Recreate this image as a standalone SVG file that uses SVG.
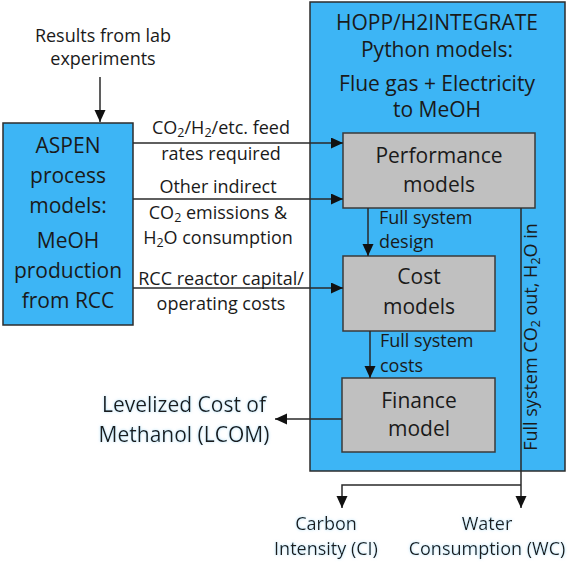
<svg xmlns="http://www.w3.org/2000/svg" width="571" height="564" viewBox="0 0 571 564">
<style>
text{font-family:"Open Sans","Liberation Sans",sans-serif;fill:#1a1a1a}
.big{font-size:21px}
.mid{font-size:18px}
.lab{font-size:18px}
.c{text-anchor:middle}
.blue{fill:#3db5f5;stroke:#2d2d2d;stroke-width:1.5}
.gray{fill:#c0c0c0;stroke:#3a3a3a;stroke-width:1.5}
.ln{fill:none;stroke:#2a2a2a;stroke-width:1.5}
.glow{filter:url(#glow)}
</style>
<defs>
<marker id="ah" markerUnits="userSpaceOnUse" markerWidth="12" markerHeight="12" refX="12" refY="5.5" orient="auto">
<path d="M0,0 L12,5.5 L0,11 z" fill="#111"/>
</marker>
<filter id="glow" x="-10%" y="-30%" width="120%" height="160%">
<feGaussianBlur in="SourceAlpha" stdDeviation="1.6" result="b"/>
<feFlood flood-color="#8fd0f2" flood-opacity="0.7"/>
<feComposite in2="b" operator="in" result="g"/>
<feMerge><feMergeNode in="g"/><feMergeNode in="SourceGraphic"/></feMerge>
</filter>
</defs>

<g id="hopp">
<rect class="blue" x="310" y="2" width="255" height="469"/>
<text class="big c" x="437" y="30">HOPP/H2INTEGRATE</text>
<text class="big c" x="437" y="57">Python models:</text>
<text class="big c" x="437" y="91">Flue gas + Electricity</text>
<text class="big c" x="437" y="117">to MeOH</text>
<text class="lab c" transform="translate(537,337) rotate(-90)" x="0" y="0">Full system CO<tspan font-size="12.5" dy="3">2</tspan><tspan dy="-3"> out, H</tspan><tspan font-size="12.5" dy="3">2</tspan><tspan dy="-3">O in</tspan></text>
</g>

<g id="results">
<text class="mid c" x="103" y="42">Results from lab</text>
<text class="mid c" x="103" y="65">experiments</text>
</g>

<g id="aspen">
<rect class="blue" x="3" y="123" width="130" height="202"/>
<text class="big c" x="68" y="153">ASPEN</text>
<text class="big c" x="68" y="183">process</text>
<text class="big c" x="68" y="213">models:</text>
<text class="big c" x="68" y="248">MeOH</text>
<text class="big c" x="68" y="278">production</text>
<text class="big c" x="68" y="308">from RCC</text>
</g>

<g id="performance">
<rect class="gray" x="343" y="133" width="192" height="75"/>
<text class="big c" x="439" y="163">Performance</text>
<text class="big c" x="439" y="192">models</text>
</g>

<g id="cost">
<rect class="gray" x="343" y="256" width="152" height="75"/>
<text class="big c" x="419" y="284">Cost</text>
<text class="big c" x="419" y="314">models</text>
</g>

<g id="finance">
<rect class="gray" x="342" y="378" width="153" height="74"/>
<text class="big c" x="419" y="408">Finance</text>
<text class="big c" x="419" y="436">model</text>
</g>

<g id="lcom" class="glow">
<text class="big c" x="184" y="412">Levelized Cost of</text>
<text class="big c" x="184" y="442">Methanol (LCOM)</text>
</g>

<g id="ci" class="glow">
<text class="mid c" x="326" y="530">Carbon</text>
<text class="mid c" x="326" y="555">Intensity (CI)</text>
</g>

<g id="wc" class="glow">
<text class="mid c" x="487" y="530">Water</text>
<text class="mid c" x="487" y="555">Consumption (WC)</text>
</g>

<g id="connectors">
<line class="ln" x1="100" y1="77" x2="100" y2="122" marker-end="url(#ah)"/>
<line class="ln" x1="133" y1="143" x2="343" y2="143" marker-end="url(#ah)"/>
<line class="ln" x1="133" y1="199" x2="343" y2="199" marker-end="url(#ah)"/>
<line class="ln" x1="133" y1="288" x2="343" y2="288" marker-end="url(#ah)"/>
<line class="ln" x1="368" y1="208" x2="368" y2="256" marker-end="url(#ah)"/>
<line class="ln" x1="370" y1="331" x2="370" y2="378" marker-end="url(#ah)"/>
<line class="ln" x1="342" y1="419" x2="275" y2="419" marker-end="url(#ah)"/>
<line class="ln" x1="521" y1="208" x2="521" y2="508" marker-end="url(#ah)"/>
<path class="ln" d="M521,485 H342 V508" marker-end="url(#ah)"/>
</g>

<g id="edge-labels">
<text class="lab c" x="221" y="134">CO<tspan font-size="12.5" dy="3">2</tspan><tspan dy="-3">/H</tspan><tspan font-size="12.5" dy="3">2</tspan><tspan dy="-3">/etc. feed</tspan></text>
<text class="lab c" x="221" y="160">rates required</text>
<text class="lab c" x="218" y="193">Other indirect</text>
<text class="lab c" x="218" y="219">CO<tspan font-size="12.5" dy="3">2</tspan><tspan dy="-3"> emissions &amp;</tspan></text>
<text class="lab c" x="218" y="244">H<tspan font-size="12.5" dy="3">2</tspan><tspan dy="-3">O consumption</tspan></text>
<text class="lab c" x="221" y="285">RCC reactor capital/</text>
<text class="lab c" x="221" y="310">operating costs</text>
<text class="lab" x="379" y="224">Full system</text>
<text class="lab" x="379" y="248">design</text>
<text class="lab" x="380" y="347">Full system</text>
<text class="lab" x="380" y="372">costs</text>
</g>
</svg>
